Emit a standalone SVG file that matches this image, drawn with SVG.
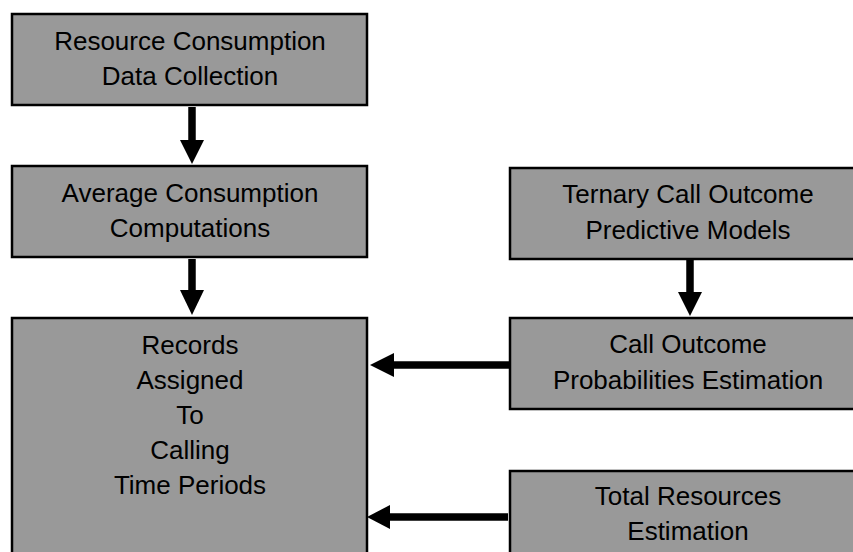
<svg xmlns="http://www.w3.org/2000/svg" width="853" height="552" viewBox="0 0 853 552">
<defs>
<style>
.box{fill:#999999;stroke:#000;stroke-width:2.5}
.t{font-family:"Liberation Sans",Arial,sans-serif;font-size:26px;fill:#000;text-anchor:middle}
.shaft{stroke:#000;stroke-width:7.5;fill:none}
.head{fill:#000}
</style>
</defs>
<rect width="853" height="552" fill="#fff"/>
<g id="n1"><rect class="box" x="12" y="14" width="355" height="91"/>
<text class="t" x="190" y="50">Resource Consumption</text><text class="t" x="190" y="85">Data Collection</text></g>
<g id="n2"><rect class="box" x="12" y="166" width="355" height="91"/>
<text class="t" x="190" y="202">Average Consumption</text><text class="t" x="190" y="237">Computations</text></g>
<g id="n3"><rect class="box" x="12" y="318" width="355" height="250"/>
<text class="t" x="190" y="354">Records</text><text class="t" x="190" y="389">Assigned</text><text class="t" x="190" y="424">To</text><text class="t" x="190" y="459">Calling</text><text class="t" x="190" y="494">Time Periods</text></g>
<g id="n4"><rect class="box" x="510" y="168" width="356" height="91"/>
<text class="t" x="688" y="203">Ternary Call Outcome</text><text class="t" x="688" y="239">Predictive Models</text></g>
<g id="n5"><rect class="box" x="510" y="318" width="356" height="91"/>
<text class="t" x="688" y="353">Call Outcome</text><text class="t" x="688" y="389">Probabilities Estimation</text></g>
<g id="n6"><rect class="box" x="510" y="471" width="356" height="100"/>
<text class="t" x="688" y="505">Total Resources</text><text class="t" x="688" y="540">Estimation</text></g>
<g id="connectors">
<line class="shaft" x1="192" y1="107" x2="192" y2="142"/><polygon class="head" points="180,140 204,140 192,164"/>
<line class="shaft" x1="192" y1="259" x2="192" y2="292"/><polygon class="head" points="180,290 204,290 192,315"/>
<line class="shaft" x1="690" y1="260" x2="690" y2="294"/><polygon class="head" points="678,292 702,292 690,316"/>
<line class="shaft" x1="510" y1="365" x2="392" y2="365"/><polygon class="head" points="394,353 394,377 370,365"/>
<line class="shaft" x1="508" y1="517" x2="388" y2="517"/><polygon class="head" points="390,505 390,529 367,517"/>
</g>
</svg>
